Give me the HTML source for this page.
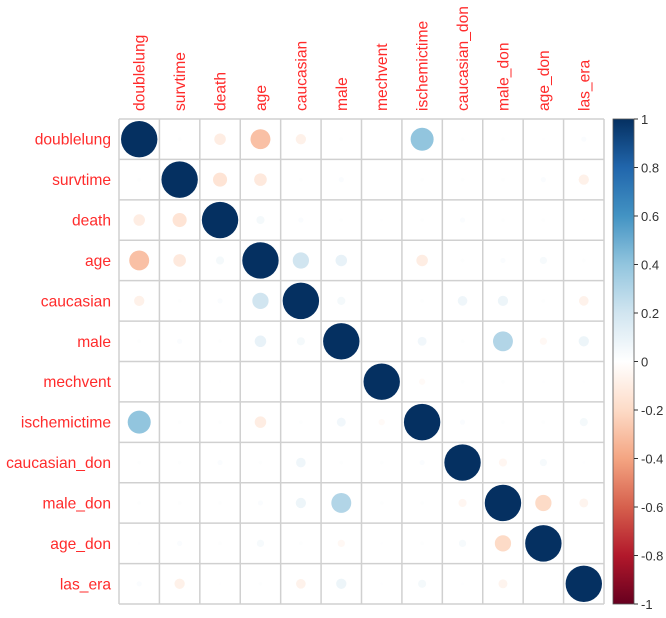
<!DOCTYPE html>
<html><head><meta charset="utf-8"><style>
body{margin:0;background:#fff;}
svg text{font-family:"Liberation Sans",sans-serif;}
</style></head><body>
<svg id="chart" width="666" height="613"></svg>
<script>
const vars=["doublelung","survtime","death","age","caucasian","male","mechvent","ischemictime","caucasian_don","male_don","age_don","las_era"];
const upper=[
[0.01,-0.1,-0.3,-0.08,0.01,0,0.4,0.01,0.01,0.005,0.02],
[-0.15,-0.12,0.01,0.02,0,0.01,0.01,0.01,0.02,-0.08],
[0.05,0.02,0.01,0.005,0.01,0.02,0.01,0.01,0.005],
[0.2,0.1,0,-0.1,0.01,0.02,0.04,0.01],
[0.05,0,0.01,0.07,0.08,0.01,-0.07],
[0,0.06,0.01,0.3,-0.04,0.08],
[-0.03,0.01,0.01,0.005,0.005],
[0.02,0.01,0.01,0.05],
[-0.05,0.04,0.005],
[-0.2,-0.06],
[0]
];
const colorTicks=["-1","-0.8","-0.6","-0.4","-0.2","0","0.2","0.4","0.6","0.8","1"];
const pal=["#67001F","#B2182B","#D6604D","#F4A582","#FDDBC7","#FFFFFF","#D1E5F0","#92C5DE","#4393C3","#2166AC","#053061"];
const NS="http://www.w3.org/2000/svg";
const svg=document.getElementById('chart');
const L=119,T=119,R=604,B=604,n=vars.length,cw=(R-L)/n,ch=(B-T)/n;
function hex(h){return [1,3,5].map(i=>parseInt(h.substr(i,2),16));}
function col(v){let t=(v+1)/2*10;let i=Math.min(9,Math.floor(t));let f=t-i;let a=hex(pal[i]),b=hex(pal[i+1]);return `rgb(${a.map((x,k)=>Math.round(x+(b[k]-x)*f)).join(',')})`;}
function el(tag,attrs){const e=document.createElementNS(NS,tag);for(const k in attrs)e.setAttribute(k,attrs[k]);svg.appendChild(e);return e;}
function val(i,j){if(i===j)return 1;const a=Math.min(i,j),b=Math.max(i,j);return upper[a][b-a-1];}
const xc=j=>L+cw*(j+0.5), yc=i=>T+ch*(i+0.5);
for(let i=0;i<=n;i++){
 let g=el('line',{x1:L,x2:R,y1:T+ch*i,y2:T+ch*i,stroke:'#d0d0d0','stroke-width':1.5});
 
 
 let h=el('line',{x1:L+cw*i,x2:L+cw*i,y1:T,y2:B,stroke:'#d0d0d0','stroke-width':1.5});
 
 
}
for(let i=0;i<n;i++)for(let j=0;j<n;j++){
 const v=val(i,j);const r=18.2*Math.sqrt(Math.abs(v));
 if(r<0.3)continue;
 const c=el('circle',{cx:xc(j),cy:yc(i),r:r,fill:col(v)});
 
 
}
vars.forEach((v,i)=>{
 const t=el('text',{x:111,y:yc(i)+5.5,'text-anchor':'end','font-size':15.6,fill:'#ff2b2b'});t.textContent=v;
 
 
 const u=el('text',{x:0,y:0,'font-size':15.6,fill:'#ff2b2b',transform:`translate(${xc(i)+5.5},111) rotate(-90)`});u.textContent=v;
 
 
});
const defs=el('defs',{});
const lg=document.createElementNS(NS,'linearGradient');lg.setAttribute('id','cg');lg.setAttribute('x1','0');lg.setAttribute('y1','1');lg.setAttribute('x2','0');lg.setAttribute('y2','0');
pal.forEach((p,k)=>{const s=document.createElementNS(NS,'stop');s.setAttribute('offset',k/10);s.setAttribute('stop-color',p);lg.appendChild(s);});
defs.appendChild(lg);
const bar=el('rect',{x:613,y:119,width:21,height:485,fill:'url(#cg)',stroke:'#555','stroke-width':0.8});


colorTicks.forEach((t,k)=>{
 const y=604-485*k/10;
 const tk=el('line',{x1:634,x2:638,y1:y,y2:y,stroke:'#333'});
 
 
 const tx=el('text',{x:641,y:y+5,'font-size':13,fill:'#333'});tx.textContent=t;
 
 
});
</script>
</body></html>
